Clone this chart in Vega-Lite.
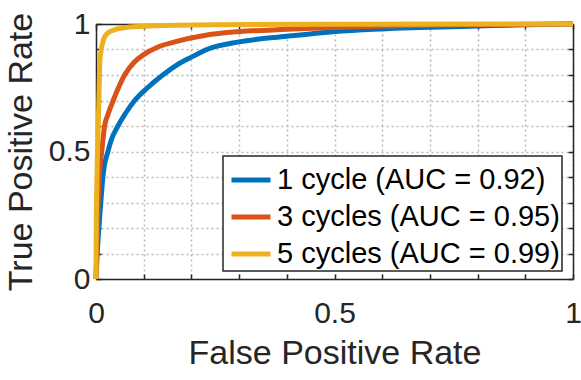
{
  "$schema": "https://vega.github.io/schema/vega-lite/v6.json",
  "autosize": {"type": "none"},
  "width": 477,
  "height": 255,
  "padding": {"left": 96, "top": 24, "right": 8, "bottom": 101},
  "background": "white",
  "config": {
    "view": {"stroke": null},
    "font": "Liberation Sans",
    "axis": {
      "domainColor": "#262626",
      "domainWidth": 1.5,
      "tickColor": "#262626",
      "tickWidth": 1.5,
      "tickSize": -5,
      "labelColor": "#262626",
      "labelFontSize": 30,
      "labelFont": "Liberation Sans",
      "titleFont": "Liberation Sans",
      "titleFontSize": 34,
      "titleFontWeight": "normal",
      "titleColor": "#262626",
      "gridColor": "#b8b8b8",
      "gridDash": [2, 3],
      "gridWidth": 1.5
    },
    "legend": {
      "orient": "none",
      "legendX": 127,
      "legendY": 132,
      "strokeColor": "#262626",
      "strokeWidth": 1.5,
      "fillColor": "white",
      "padding": 2,
      "symbolOffset": 4,
      "symbolType": "stroke",
      "symbolStrokeWidth": 5,
      "symbolSize": 1521,
      "labelFontSize": 29,
      "labelFont": "Liberation Sans",
      "labelColor": "#000000",
      "labelLimit": 600,
      "labelOffset": 4,
      "rowPadding": -3.5
    }
  },
  "data": {
    "values": [
      {"series": "1 cycle (AUC = 0.92)", "fpr": 0, "tpr": 0},
      {"series": "1 cycle (AUC = 0.92)", "fpr": 0.002, "tpr": 0.08},
      {"series": "1 cycle (AUC = 0.92)", "fpr": 0.004, "tpr": 0.15},
      {"series": "1 cycle (AUC = 0.92)", "fpr": 0.006, "tpr": 0.2},
      {"series": "1 cycle (AUC = 0.92)", "fpr": 0.01, "tpr": 0.3},
      {"series": "1 cycle (AUC = 0.92)", "fpr": 0.015, "tpr": 0.41},
      {"series": "1 cycle (AUC = 0.92)", "fpr": 0.025, "tpr": 0.5},
      {"series": "1 cycle (AUC = 0.92)", "fpr": 0.032, "tpr": 0.545},
      {"series": "1 cycle (AUC = 0.92)", "fpr": 0.046, "tpr": 0.6},
      {"series": "1 cycle (AUC = 0.92)", "fpr": 0.062, "tpr": 0.65},
      {"series": "1 cycle (AUC = 0.92)", "fpr": 0.081, "tpr": 0.7},
      {"series": "1 cycle (AUC = 0.92)", "fpr": 0.108, "tpr": 0.75},
      {"series": "1 cycle (AUC = 0.92)", "fpr": 0.14, "tpr": 0.8},
      {"series": "1 cycle (AUC = 0.92)", "fpr": 0.17, "tpr": 0.84},
      {"series": "1 cycle (AUC = 0.92)", "fpr": 0.2, "tpr": 0.87},
      {"series": "1 cycle (AUC = 0.92)", "fpr": 0.235, "tpr": 0.902},
      {"series": "1 cycle (AUC = 0.92)", "fpr": 0.3, "tpr": 0.93},
      {"series": "1 cycle (AUC = 0.92)", "fpr": 0.4, "tpr": 0.952},
      {"series": "1 cycle (AUC = 0.92)", "fpr": 0.48, "tpr": 0.967},
      {"series": "1 cycle (AUC = 0.92)", "fpr": 0.56, "tpr": 0.977},
      {"series": "1 cycle (AUC = 0.92)", "fpr": 0.7, "tpr": 0.987},
      {"series": "1 cycle (AUC = 0.92)", "fpr": 0.8, "tpr": 0.992},
      {"series": "1 cycle (AUC = 0.92)", "fpr": 0.9, "tpr": 0.997},
      {"series": "1 cycle (AUC = 0.92)", "fpr": 1, "tpr": 1},
      {"series": "3 cycles (AUC = 0.95)", "fpr": 0, "tpr": 0},
      {"series": "3 cycles (AUC = 0.95)", "fpr": 0.002, "tpr": 0.15},
      {"series": "3 cycles (AUC = 0.95)", "fpr": 0.004, "tpr": 0.28},
      {"series": "3 cycles (AUC = 0.95)", "fpr": 0.006, "tpr": 0.36},
      {"series": "3 cycles (AUC = 0.95)", "fpr": 0.009, "tpr": 0.45},
      {"series": "3 cycles (AUC = 0.95)", "fpr": 0.012, "tpr": 0.5},
      {"series": "3 cycles (AUC = 0.95)", "fpr": 0.018, "tpr": 0.6},
      {"series": "3 cycles (AUC = 0.95)", "fpr": 0.026, "tpr": 0.65},
      {"series": "3 cycles (AUC = 0.95)", "fpr": 0.036, "tpr": 0.7},
      {"series": "3 cycles (AUC = 0.95)", "fpr": 0.047, "tpr": 0.75},
      {"series": "3 cycles (AUC = 0.95)", "fpr": 0.06, "tpr": 0.8},
      {"series": "3 cycles (AUC = 0.95)", "fpr": 0.08, "tpr": 0.85},
      {"series": "3 cycles (AUC = 0.95)", "fpr": 0.1, "tpr": 0.88},
      {"series": "3 cycles (AUC = 0.95)", "fpr": 0.13, "tpr": 0.91},
      {"series": "3 cycles (AUC = 0.95)", "fpr": 0.165, "tpr": 0.93},
      {"series": "3 cycles (AUC = 0.95)", "fpr": 0.23, "tpr": 0.956},
      {"series": "3 cycles (AUC = 0.95)", "fpr": 0.3, "tpr": 0.97},
      {"series": "3 cycles (AUC = 0.95)", "fpr": 0.4, "tpr": 0.979},
      {"series": "3 cycles (AUC = 0.95)", "fpr": 0.48, "tpr": 0.985},
      {"series": "3 cycles (AUC = 0.95)", "fpr": 0.6, "tpr": 0.992},
      {"series": "3 cycles (AUC = 0.95)", "fpr": 0.75, "tpr": 0.997},
      {"series": "3 cycles (AUC = 0.95)", "fpr": 1, "tpr": 1},
      {"series": "5 cycles (AUC = 0.99)", "fpr": 0, "tpr": 0},
      {"series": "5 cycles (AUC = 0.99)", "fpr": 0.0005, "tpr": 0.2},
      {"series": "5 cycles (AUC = 0.99)", "fpr": 0.002, "tpr": 0.4},
      {"series": "5 cycles (AUC = 0.99)", "fpr": 0.004, "tpr": 0.55},
      {"series": "5 cycles (AUC = 0.99)", "fpr": 0.006, "tpr": 0.7},
      {"series": "5 cycles (AUC = 0.99)", "fpr": 0.008, "tpr": 0.85},
      {"series": "5 cycles (AUC = 0.99)", "fpr": 0.011, "tpr": 0.9},
      {"series": "5 cycles (AUC = 0.99)", "fpr": 0.016, "tpr": 0.94},
      {"series": "5 cycles (AUC = 0.99)", "fpr": 0.025, "tpr": 0.965},
      {"series": "5 cycles (AUC = 0.99)", "fpr": 0.04, "tpr": 0.978},
      {"series": "5 cycles (AUC = 0.99)", "fpr": 0.07, "tpr": 0.988},
      {"series": "5 cycles (AUC = 0.99)", "fpr": 0.12, "tpr": 0.993},
      {"series": "5 cycles (AUC = 0.99)", "fpr": 0.25, "tpr": 0.997},
      {"series": "5 cycles (AUC = 0.99)", "fpr": 0.5, "tpr": 0.999},
      {"series": "5 cycles (AUC = 0.99)", "fpr": 1, "tpr": 1}
    ]
  },
  "layer": [
    {
      "mark": {"type": "line", "strokeWidth": 5, "interpolate": "monotone", "clip": false},
      "encoding": {
        "x": {
          "field": "fpr", "type": "quantitative",
          "scale": {"domain": [0, 1], "nice": false},
          "axis": {
            "orient": "bottom",
            "title": "False Positive Rate",
            "values": [0, 0.1, 0.2, 0.3, 0.4, 0.5, 0.6, 0.7, 0.8, 0.9, 1],
            "labelExpr": "abs(datum.value) < 1e-6 ? '0' : abs(datum.value - 0.5) < 1e-6 ? '0.5' : abs(datum.value - 1) < 1e-6 ? '1' : ''",
            "labelPadding": 24,
            "labelFlush": false,
            "labelOverlap": false,
            "grid": true,
            "titleBaseline": "alphabetic",
            "titleY": 84
          }
        },
        "y": {
          "field": "tpr", "type": "quantitative",
          "scale": {"domain": [0, 1], "nice": false},
          "axis": {
            "orient": "left",
            "title": "True Positive Rate",
            "values": [0, 0.1, 0.2, 0.3, 0.4, 0.5, 0.6, 0.7, 0.8, 0.9, 1],
            "labelExpr": "abs(datum.value) < 1e-6 ? '0' : abs(datum.value - 0.5) < 1e-6 ? '0.5' : abs(datum.value - 1) < 1e-6 ? '1' : ''",
            "labelPadding": 11,
            "labelFlush": false,
            "labelOverlap": false,
            "grid": true,
            "titleBaseline": "alphabetic",
            "titleX": -65
          }
        },
        "color": {
          "field": "series", "type": "nominal",
          "scale": {"range": ["#0072BD", "#D95319", "#EDB120"]},
          "legend": {"title": null}
        }
      }
    },
    {
      "mark": {"type": "line", "opacity": 0},
      "encoding": {
        "x": {
          "field": "fpr", "type": "quantitative",
          "axis": {
            "orient": "top", "title": null, "labels": false, "grid": false,
            "values": [0, 0.1, 0.2, 0.3, 0.4, 0.5, 0.6, 0.7, 0.8, 0.9, 1]
          }
        },
        "y": {
          "field": "tpr", "type": "quantitative",
          "axis": {
            "orient": "right", "title": null, "labels": false, "grid": false,
            "values": [0, 0.1, 0.2, 0.3, 0.4, 0.5, 0.6, 0.7, 0.8, 0.9, 1]
          }
        }
      }
    }
  ],
  "resolve": {"axis": {"x": "independent", "y": "independent"}}
}
